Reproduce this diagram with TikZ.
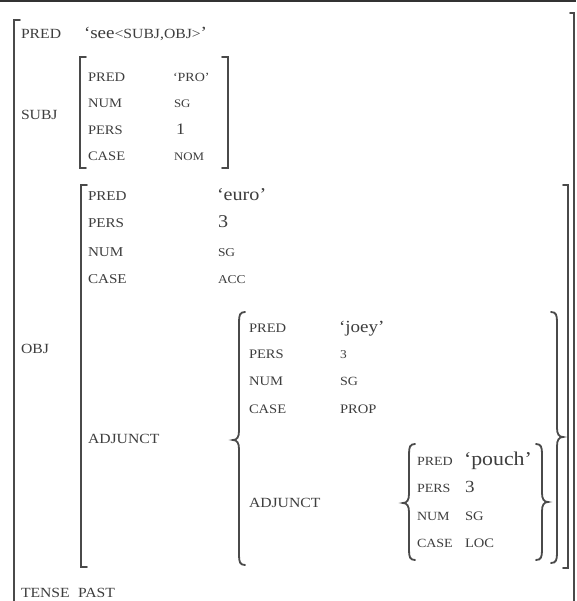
\documentclass[tikz,border=0pt]{standalone}
\usepackage{fontspec}
\setmainfont[FakeStretch=1.12]{Liberation Serif}
\definecolor{ink}{HTML}{3E3E3E}
\definecolor{brk}{HTML}{4A4A4A}
\newcommand\LBr[4]{\draw[br] ({#1+6},#2) .. controls ({#1+1},#2) and (#1,{#2+3}) .. (#1,{#2+10}) -- (#1,{#3-9}) .. controls (#1,{#3-3}) and ({#1-2},#3) .. ({#1-6},#3) .. controls ({#1-2},#3) and (#1,{#3+3}) .. (#1,{#3+9}) -- (#1,{#4-10}) .. controls (#1,{#4-3}) and ({#1+1},#4) .. ({#1+6},#4);}
\newcommand\RBr[4]{\draw[br] ({#1-6},#2) .. controls ({#1-1},#2) and (#1,{#2+3}) .. (#1,{#2+10}) -- (#1,{#3-9}) .. controls (#1,{#3-3}) and ({#1+2},#3) .. ({#1+6},#3) .. controls ({#1+2},#3) and (#1,{#3+3}) .. (#1,{#3+9}) -- (#1,{#4-10}) .. controls (#1,{#4-3}) and ({#1-1},#4) .. ({#1-6},#4);}
\tikzset{
  t/.style={anchor=base west,inner sep=0pt,outer sep=0pt,text=ink,font=\fontsize{#1}{#1}\selectfont},
  br/.style={draw=brk,line width=1.8pt,line cap=round,line join=miter},
}
\begin{document}
\begin{tikzpicture}[x=1pt,y=-1pt]
\useasboundingbox[fill=white] (0,0) rectangle (576,601);
\draw[draw=black!80,line width=2pt] (0,1) -- (576,1);
% outer f-structure
\draw[br] (20,20) -- (14,20) -- (14,601);
\draw[br] (570,13) -- (574,13) -- (574,601);
\node[t=14] (pred) at (21,39) {PRED};
\node[t=17] (predv) at (84,39) {‘see{\fontsize{14}{14}\selectfont<SUBJ,OBJ>}’};
\node[t=14] (subj) at (21,120) {SUBJ};
\node[t=14] (obj) at (21,353) {OBJ};
\node[t=14] (tense) at (21,597) {TENSE};
\node[t=14] (past) at (78,597) {PAST};
% SUBJ
\draw[br] (86,57) -- (80,57) -- (80,168) -- (86,168);
\draw[br] (222,57) -- (228,57) -- (228,168) -- (222,168);
\node[t=13] (s1) at (88,82) {PRED};
\node[t=12.5] (s1v) at (173,82) {‘PRO’};
\node[t=13] (s2) at (88,108) {NUM};
\node[t=11.5] (s2v) at (174,108) {SG};
\node[t=13] (s3) at (88,135) {PERS};
\node[t=16] (s3v) at (176,135) {1};
\node[t=13] (s4) at (88,161) {CASE};
\node[t=11.5] (s4v) at (174,161) {NOM};
% OBJ
\draw[br] (87,185) -- (81,185) -- (81,567) -- (87,567);
\draw[br] (563,185) -- (568,185) -- (568,568) -- (563,568);
\node[t=13.5] (o1) at (88,201) {PRED};
\node[t=18] (o1v) at (217,201) {‘euro’};
\node[t=13.5] (o2) at (88,228) {PERS};
\node[t=18] (o2v) at (218,228) {3};
\node[t=13.5] (o3) at (88,256) {NUM};
\node[t=12] (o3v) at (218,256) {SG};
\node[t=13.5] (o4) at (88,283) {CASE};
\node[t=12] (o4v) at (218,283) {ACC};
\node[t=14] (adj) at (88,443) {ADJUNCT};
% adjunct set
\LBr{239}{312}{440}{565}
\RBr{557}{312}{437}{563}
\node[t=13] (j1) at (249,332) {PRED};
\node[t=17] (j1v) at (339,332) {‘joey’};
\node[t=13] (j2) at (249,358) {PERS};
\node[t=12] (j2v) at (340,358) {3};
\node[t=13] (j3) at (249,385) {NUM};
\node[t=12.5] (j3v) at (340,385) {SG};
\node[t=13] (j4) at (249,413) {CASE};
\node[t=13] (j4v) at (340,413) {PROP};
\node[t=14] (adj2) at (249,507) {ADJUNCT};
% inner adjunct set
\LBr{409}{444}{503}{560}
\RBr{542}{444}{502}{560}
\node[t=12.5] (p1) at (417,465) {PRED};
\node[t=19.5] (p1v) at (464,465) {‘pouch’};
\node[t=12.5] (p2) at (417,492) {PERS};
\node[t=17] (p2v) at (465,492) {3};
\node[t=12.5] (p3) at (417,520) {NUM};
\node[t=13] (p3v) at (465,520) {SG};
\node[t=12.5] (p4) at (417,547) {CASE};
\node[t=13] (p4v) at (465,547) {LOC};
\end{tikzpicture}
\end{document}
